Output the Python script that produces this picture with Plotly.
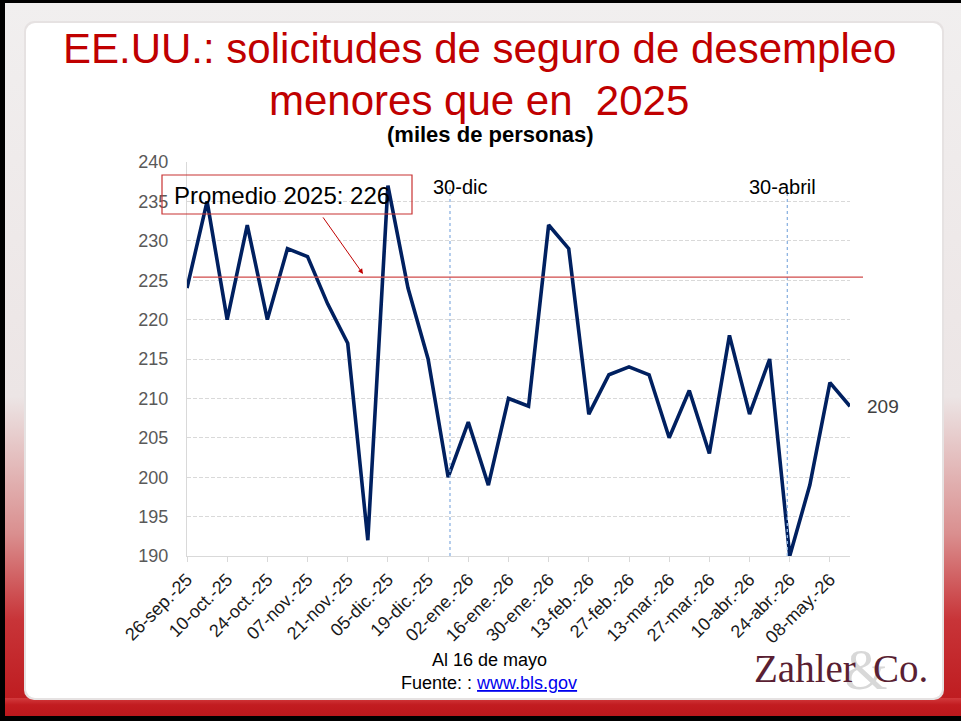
import base64
import plotly.graph_objects as go

# ---------------- data ----------------
semanas = ["26-sep.-25", "03-oct.-25", "10-oct.-25", "17-oct.-25", "24-oct.-25", "31-oct.-25",
           "07-nov.-25", "14-nov.-25", "21-nov.-25", "28-nov.-25", "05-dic.-25", "12-dic.-25",
           "19-dic.-25", "26-dic.-25", "02-ene.-26", "09-ene.-26", "16-ene.-26", "23-ene.-26",
           "30-ene.-26", "06-feb.-26", "13-feb.-26", "20-feb.-26", "27-feb.-26", "06-mar.-26",
           "13-mar.-26", "20-mar.-26", "27-mar.-26", "03-abr.-26", "10-abr.-26", "17-abr.-26",
           "24-abr.-26", "01-may.-26", "08-may.-26", "15-may.-26"]
solicitudes = [224, 235, 220, 232, 220, 229, 228, 222, 217, 192,
               237, 224, 215, 200, 207, 199, 210, 209, 232, 229,
               208, 213, 214, 213, 205, 211, 203, 218, 208, 215,
               190, 199, 212, 209]
promedio_2025 = 225.4
promedio_texto = "Promedio 2025: 226"
marcas_verticales = [13.09, 29.88]          # category positions of the 30-dic / 30-abril markers
marcas_texto = ["30-dic", "30-abril"]
marcas_texto_x = [13.59, 29.62]
ultimo_valor_texto = "209"

titulo_1 = "EE.UU.: solicitudes de seguro de desempleo"
titulo_2 = "menores que en\u00a0\u00a02025"
subtitulo = "(miles de personas)"
nota_fecha = "Al 16 de mayo"
fuente = ("Fuente: : <a href='https://www.bls.gov'><span style='color:#0000ee;text-decoration:underline'>"
          "www.bls.gov</span></a>")

# ---------------- geometry ----------------
W, H = 961, 721
ML, MR, MT, MB = 187, 111, 162, 165
PW, PH = W - ML - MR, H - MT - MB


def px(X):
    return (X - ML) / PW


def py(Y):
    return (H - MB - Y) / PH


FONT = "Liberation Sans, Arial, sans-serif"
SERIF = "Liberation Serif, Times New Roman, serif"

# background slide frame as an SVG image
svg = f"""<svg xmlns='http://www.w3.org/2000/svg' width='{W}' height='{H}' viewBox='0 0 {W} {H}' preserveAspectRatio='none'>
<defs>
<linearGradient id='g' x1='0' y1='0' x2='0' y2='1'>
<stop offset='0' stop-color='#f1efef'/>
<stop offset='0.55' stop-color='#ece5e5'/>
<stop offset='0.74' stop-color='#da8f8f'/>
<stop offset='0.86' stop-color='#c83438'/>
<stop offset='1' stop-color='#bc161a'/>
</linearGradient>
<linearGradient id='b' x1='0' y1='0' x2='0' y2='1'>
<stop offset='0' stop-color='#d23a3d'/>
<stop offset='0.3' stop-color='#c21c20'/>
<stop offset='1' stop-color='#b9161a'/>
</linearGradient>
</defs>
<rect width='{W}' height='{H}' fill='url(#g)'/>
<rect x='0' y='698' width='{W}' height='23' fill='url(#b)'/>
<rect x='24' y='21' width='920' height='679' rx='10' ry='10' fill='#e6e2e2'/>
<rect x='26' y='23' width='916' height='675' rx='9' ry='9' fill='#ffffff'/>
<rect x='0' y='0' width='{W}' height='3' fill='#000'/>
<rect x='0' y='0' width='5' height='{H}' fill='#000'/>
<rect x='0' y='716' width='{W}' height='5' fill='#000'/>
</svg>"""
svg_uri = "data:image/svg+xml;base64," + base64.b64encode(svg.encode()).decode()

fig = go.Figure()

fig.add_trace(go.Scatter(
    x=semanas, y=solicitudes, mode="lines",
    line=dict(color="#002060", width=3.6),
    hoverinfo="x+y", showlegend=False,
))

shapes = []
# vertical markers
for xv in marcas_verticales:
    shapes.append(dict(type="line", xref="x", yref="y", x0=xv, x1=xv, y0=190, y1=236.8,
                       line=dict(color="#8db3e2", width=1.3, dash="3px,3px"), layer="above"))
# average line (extends slightly past the plot)
shapes.append(dict(type="line", xref="paper", yref="y", x0=px(193), x1=px(863),
                   y0=promedio_2025, y1=promedio_2025,
                   line=dict(color="#d04a4a", width=1.2), layer="above"))
# average label box
shapes.append(dict(type="rect", xref="paper", yref="paper", x0=px(162), x1=px(412),
                   y0=py(214), y1=py(175), line=dict(color="#c83232", width=1.2),
                   fillcolor="rgba(0,0,0,0)", layer="above"))

annotations = [
    dict(text=titulo_1, x=px(479), y=py(49), xref="paper", yref="paper", showarrow=False,
         xanchor="center", yanchor="middle", font=dict(family=FONT, size=42, color="#c00000")),
    dict(text=titulo_2, x=px(479), y=py(101), xref="paper", yref="paper", showarrow=False,
         xanchor="center", yanchor="middle", font=dict(family=FONT, size=42, color="#c00000")),
    dict(text="<b>" + subtitulo + "</b>", x=px(490), y=py(134), xref="paper", yref="paper",
         showarrow=False, xanchor="center", yanchor="middle",
         font=dict(family=FONT, size=22, color="#000000")),
    dict(text=promedio_texto, x=px(172), y=py(195), xref="paper", yref="paper", showarrow=False,
         xanchor="left", yanchor="middle", font=dict(family=FONT, size=24, color="#000000")),
    dict(text="", x=8.76, y=225.8, xref="x", yref="y", showarrow=True, ax=-41, ay=-58,
         arrowhead=2, arrowsize=1, arrowwidth=1, arrowcolor="#c00000", standoff=0),
    dict(text=ultimo_valor_texto, x=semanas[-1], y=solicitudes[-1], xref="x", yref="y",
         showarrow=False, xanchor="left", yanchor="middle", xshift=15,
         font=dict(family=FONT, size=19, color="#404040")),
    dict(text=nota_fecha, x=px(489), y=py(660), xref="paper", yref="paper", showarrow=False,
         xanchor="center", yanchor="middle", font=dict(family=FONT, size=18, color="#000000")),
    dict(text=fuente, x=px(489), y=py(683), xref="paper", yref="paper", showarrow=False,
         xanchor="center", yanchor="middle", font=dict(family=FONT, size=18, color="#000000")),
    # logo
    dict(text="&amp;", x=px(866), y=py(670), xref="paper", yref="paper", showarrow=False,
         xanchor="center", yanchor="middle",
         font=dict(family=SERIF, size=56, color="#d8d8d8")),
    dict(text="Zahler", x=px(858), y=py(668), xref="paper", yref="paper", showarrow=False,
         xanchor="right", yanchor="middle",
         font=dict(family=SERIF, size=39, color="#5a1f33")),
    dict(text="Co.", x=px(871), y=py(668), xref="paper", yref="paper", showarrow=False,
         xanchor="left", yanchor="middle",
         font=dict(family=SERIF, size=39, color="#5a1f33")),
]
for xt, t in zip(marcas_texto_x, marcas_texto):
    annotations.append(dict(text=t, x=xt, y=236.8, xref="x", yref="y", showarrow=False,
                            xanchor="center", yanchor="middle",
                            font=dict(family=FONT, size=20, color="#000000")))

fig.update_layout(
    width=W, height=H, autosize=False,
    margin=dict(l=ML, r=MR, t=MT, b=MB, pad=0),
    paper_bgcolor="#ffffff", plot_bgcolor="rgba(0,0,0,0)",
    font=dict(family=FONT),
    showlegend=False,
    shapes=shapes,
    annotations=annotations,
    images=[dict(source=svg_uri, xref="paper", yref="paper", x=px(0), y=py(0),
                 sizex=W / PW, sizey=H / PH, xanchor="left", yanchor="top",
                 sizing="stretch", layer="below")],
    xaxis=dict(
        type="category", range=[0, len(semanas) - 1],
        tickvals=semanas[::2], ticktext=semanas[::2],
        tickangle=-45, tickfont=dict(family=FONT, size=18, color="#1a1a1a"),
        ticks="outside", ticklen=5, tickcolor="#d9d9d9", tickwidth=1,
        showline=True, linecolor="#d9d9d9", linewidth=1,
        showgrid=False, zeroline=False,
    ),
    yaxis=dict(
        range=[190, 240], dtick=5, tick0=190,
        tickfont=dict(family=FONT, size=18, color="#595959"),
        ticks="", ticklabelstandoff=14,
        showline=True, linecolor="#d9d9d9", linewidth=1,
        showgrid=True, gridcolor="#d9d9d9", gridwidth=1, griddash="4px,2px",
        zeroline=False,
    ),
)

fig.write_html("out.html", config={"displayModeBar": False},
               post_script="document.body.style.margin='0';document.body.style.overflow='hidden';")
